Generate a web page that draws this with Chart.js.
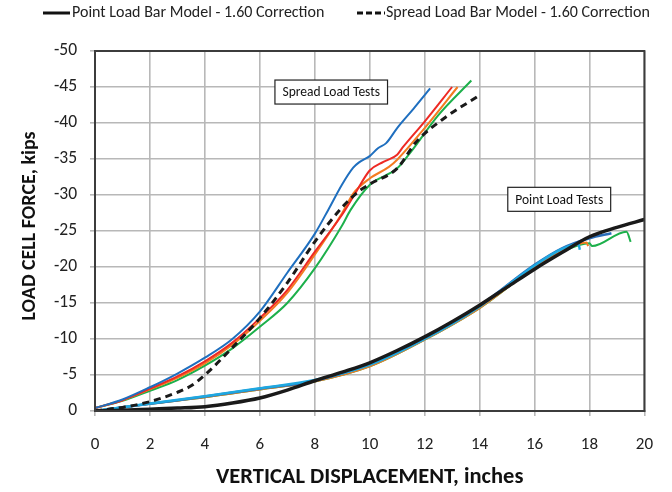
<!DOCTYPE html>
<html>
<head>
<meta charset="utf-8">
<script src="https://cdn.jsdelivr.net/npm/chart.js@4.4.0/dist/chart.umd.min.js"></script>
<style>
  html, body { margin: 0; padding: 0; background: #fff; }
  #wrap { width: 672px; height: 492px; }
</style>
</head>
<body>
<div id="wrap"><canvas id="loadChart" width="672" height="492"></canvas></div>
<script>
// axis ticks
const xTicks = [0, 2, 4, 6, 8, 10, 12, 14, 16, 18, 20];
const yTicks = [-50, -45, -40, -35, -30, -25, -20, -15, -10, -5, 0];

// spread load tests (inches, kips)
const spreadBlueX = [0, 1, 2, 3, 4, 5, 6, 7, 8, 8.5, 9.0, 9.4, 9.6, 10.0, 10.3, 10.6, 11.0, 11.6, 12.2];
const spreadBlueY = [-0.4, -1.6, -3.3, -5.2, -7.4, -10.0, -13.8, -19.2, -24.6, -28.0, -31.5, -33.8, -34.5, -35.4, -36.5, -37.2, -39.3, -42.0, -44.8];
const spreadRedX = [0, 1, 2, 3, 4, 5, 6, 7, 8, 9, 9.5, 10.0, 10.5, 11.0, 11.2, 12.0, 13.0];
const spreadRedY = [-0.4, -1.5, -3.1, -4.8, -6.9, -9.5, -12.9, -16.8, -22.1, -27.3, -30.4, -33.4, -34.6, -35.6, -36.6, -40.2, -45.0];
const spreadOrangeX = [0, 1, 2, 3, 4, 5, 6, 7, 8, 9, 9.4, 10.0, 10.7, 11.0, 12.0, 13.2];
const spreadOrangeY = [-0.4, -1.5, -3.0, -4.6, -6.6, -9.2, -12.5, -16.4, -21.7, -27.5, -30.2, -32.3, -33.9, -34.9, -39.3, -45.0];
const spreadGreenX = [0, 1, 2, 3, 4, 5, 6, 7, 8, 9, 9.3, 10.0, 11.0, 11.5, 12.5, 13.7];
const spreadGreenY = [-0.4, -1.4, -2.8, -4.3, -6.3, -8.7, -11.7, -15.0, -19.8, -25.8, -27.9, -31.4, -33.7, -36.0, -41.1, -45.9];
const spreadModelX = [0, 0.6, 1, 2, 3, 3.5, 4, 5, 6, 7, 8, 9, 9.6, 10.0, 11.0, 11.7, 12.8, 13.9];
const spreadModelY = [0, -0.3, -0.5, -1.3, -2.6, -3.5, -5.0, -8.8, -12.9, -17.8, -23.5, -28.3, -30.5, -31.5, -33.7, -37.4, -40.9, -43.6];

// point load tests
const pointModelX = [0, 1, 2, 3, 4, 5, 6, 7, 8, 9, 10, 11, 12, 13, 14, 15, 16, 17, 18, 19, 20];
const pointModelY = [0, -0.1, -0.25, -0.4, -0.6, -1.1, -1.8, -2.9, -4.2, -5.4, -6.7, -8.4, -10.3, -12.4, -14.7, -17.2, -19.7, -22.0, -24.2, -25.5, -26.6];
const pointBlueX = [0, 2, 4, 6, 8, 10, 12, 14, 16, 17, 18, 18.8];
const pointBlueY = [0, -1.0, -2.0, -3.1, -4.2, -6.5, -10.1, -14.6, -20.3, -22.6, -24.0, -24.7];
const pointCyanX = [0, 2, 4, 6, 8, 10, 12, 14, 16, 17, 17.6, 17.65];
const pointCyanY = [0, -1.05, -2.05, -3.15, -4.3, -6.4, -10.0, -14.5, -20.2, -22.5, -23.2, -22.4];
const pointOrangeX = [0, 2, 4, 6, 8, 10, 12, 14, 16, 17, 17.9, 17.95];
const pointOrangeY = [0, -1.0, -1.9, -3.0, -4.1, -6.2, -9.9, -14.3, -19.9, -22.2, -23.4, -22.9];
const pointGreenX = [0, 2, 4, 6, 8, 10, 12, 14, 16, 17, 18, 18.1, 19.35, 19.5];
const pointGreenY = [0, -1.0, -1.9, -3.0, -4.1, -6.2, -9.9, -14.3, -19.9, -22.1, -23.3, -22.9, -24.9, -23.5];

// labels
const legendLabels = ['Point Load Bar Model - 1.60 Correction', 'Spread Load Bar Model - 1.60 Correction'];
const noteLabels = ['Spread Load Tests', 'Point Load Tests'];
const noteX = [8.6, 16.9];
const noteY = [-44.3, -29.4];
const yTitle = 'LOAD CELL FORCE, kips';
const xTitle = 'VERTICAL DISPLACEMENT, inches';

const FONT = "Carlito, 'Liberation Sans Narrow', 'Open Sans', sans-serif";

function pts(xs, ys) {
    return xs.map((x, i) => ({ x: x, y: ys[i] }));
}

function line(data, color, width, order, dash) {
    return {
        data: data,
        borderColor: color,
        backgroundColor: color,
        borderWidth: width,
        borderDash: dash || [],
        pointRadius: 0,
        fill: false,
        cubicInterpolationMode: 'monotone',
        order: order
    };
}

const extras = {
    id: 'extras',
    afterDatasetsDraw(chart) {
        const { ctx, chartArea: a, scales } = chart;
        ctx.save();
        // frame
        ctx.strokeStyle = '#3c3c3c';
        ctx.lineWidth = 2;
        ctx.strokeRect(a.left, a.top, a.right - a.left, a.bottom - a.top);
        // text boxes
        ctx.font = '13.5px ' + FONT;
        ctx.textAlign = 'center';
        ctx.textBaseline = 'middle';
        noteLabels.forEach((t, i) => {
            const cx = scales.x.getPixelForValue(noteX[i]);
            const cy = scales.y.getPixelForValue(noteY[i]);
            const w = ctx.measureText(t).width + 15;
            const h = 24;
            ctx.fillStyle = '#fff';
            ctx.fillRect(cx - w / 2, cy - h / 2, w, h);
            ctx.strokeStyle = '#222';
            ctx.lineWidth = 1.2;
            ctx.strokeRect(cx - w / 2, cy - h / 2, w, h);
            ctx.fillStyle = '#111';
            ctx.fillText(t, cx, cy + 1);
        });
        ctx.restore();
    },
    afterDraw(chart) {
        const ctx = chart.ctx;
        ctx.save();
        // y axis title
        ctx.font = 'bold 20px ' + FONT;
        ctx.fillStyle = '#111';
        ctx.textAlign = 'center';
        ctx.textBaseline = 'middle';
        ctx.translate(30, 226);
        ctx.rotate(-Math.PI / 2);
        ctx.fillText(yTitle, 0, 0);
        ctx.setTransform(1, 0, 0, 1, 0, 0);

        // legend
        ctx.font = '16px ' + FONT;
        ctx.textBaseline = 'middle';
        ctx.textAlign = 'left';
        ctx.fillStyle = '#222';
        const y = 13;
        ctx.strokeStyle = '#111';
        ctx.lineWidth = 3;
        ctx.beginPath();
        ctx.moveTo(43, y); ctx.lineTo(70, y);
        ctx.stroke();
        ctx.fillText(legendLabels[0], 72, y);
        ctx.setLineDash([6, 3]);
        ctx.beginPath();
        ctx.moveTo(357, y); ctx.lineTo(385, y);
        ctx.stroke();
        ctx.setLineDash([]);
        ctx.fillText(legendLabels[1], 386, y);
        ctx.restore();
    }
};

const ctx = document.getElementById('loadChart').getContext('2d');

new Chart(ctx, {
    type: 'line',
    data: {
        datasets: [
            line(pts(pointGreenX, pointGreenY), '#1db04b', 2, 9),
            line(pts(pointOrangeX, pointOrangeY), '#f47b20', 2, 8),
            line(pts(pointBlueX, pointBlueY), '#2a6ebb', 2.5, 7),
            line(pts(pointCyanX, pointCyanY), '#1fa8e0', 2.5, 6),
            line(pts(pointModelX, pointModelY), '#1a1a1a', 3.5, 1),
            line(pts(spreadGreenX, spreadGreenY), '#1db04b', 2, 5),
            line(pts(spreadOrangeX, spreadOrangeY), '#f47b20', 2, 4),
            line(pts(spreadRedX, spreadRedY), '#ee2a24', 2, 3),
            line(pts(spreadBlueX, spreadBlueY), '#1f6fbf', 2, 2),
            line(pts(spreadModelX, spreadModelY), '#1a1a1a', 3, 0, [7, 5])
        ]
    },
    options: {
        responsive: false,
        animation: false,
        layout: { padding: { top: 51, right: 21, left: 0, bottom: 0 } },
        plugins: {
            legend: { display: false },
            tooltip: { enabled: false }
        },
        scales: {
            x: {
                type: 'linear',
                min: 0,
                max: 20,
                afterFit: s => { s.height = 81; },
                afterBuildTicks: s => { s.ticks = xTicks.map(v => ({ value: v })); },
                ticks: { color: '#222', font: { family: FONT, size: 17 }, padding: 19, maxRotation: 0 },
                grid: { color: '#b8b8b8', lineWidth: 1.6, tickLength: 5 },
                border: { color: '#7a7a7a', width: 2 },
                title: {
                    display: true,
                    text: xTitle,
                    color: '#111',
                    font: { family: FONT, size: 22.5, weight: 'bold' },
                    padding: { top: 0, bottom: 1 }
                }
            },
            y: {
                type: 'linear',
                reverse: true,
                min: -50,
                max: 0,
                afterFit: s => { s.width = 95; },
                afterBuildTicks: s => { s.ticks = yTicks.map(v => ({ value: v })); },
                ticks: { color: '#222', font: { family: FONT, size: 17.5 }, padding: 13 },
                grid: { color: '#b8b8b8', lineWidth: 1.6, tickLength: 5 },
                border: { color: '#5a5a5a', width: 2 }
            }
        }
    },
    plugins: [extras]
});
</script>
</body>
</html>
